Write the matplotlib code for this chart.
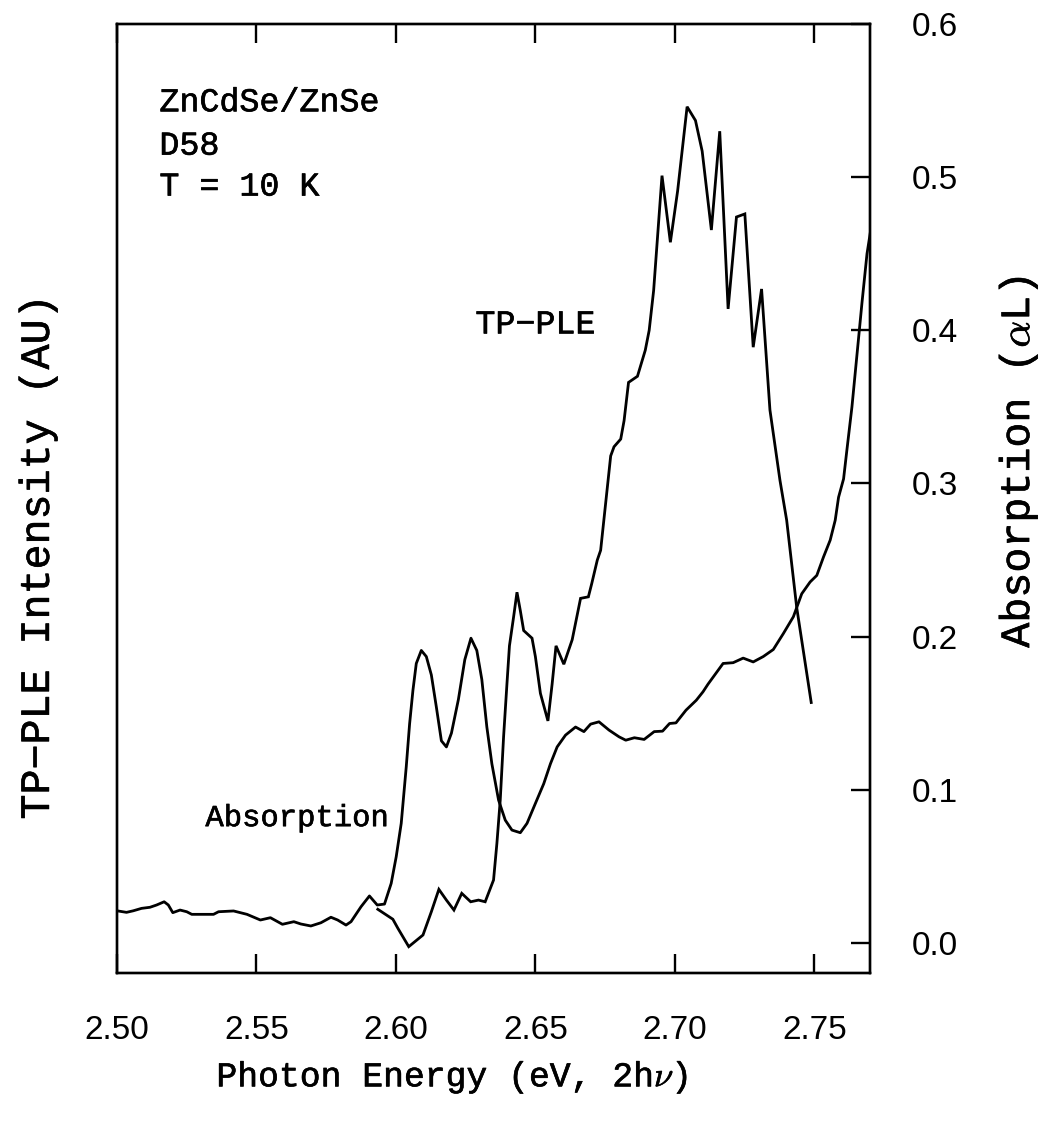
import matplotlib
matplotlib.use("Agg")
import matplotlib.pyplot as plt
import matplotlib.patheffects as pe

# ---------------- data ----------------
abs_energy = [2.500, 2.5034, 2.5058, 2.5088, 2.5118, 2.5142, 2.5169, 2.5184, 2.5200, 2.5226,
              2.5250, 2.5268, 2.5346, 2.5364, 2.5418, 2.5466, 2.5514, 2.5550, 2.5593, 2.5634,
              2.5659, 2.5695, 2.5731, 2.5767, 2.5791, 2.5821, 2.5839, 2.5875, 2.5905, 2.5933,
              2.5959, 2.5983, 2.6001, 2.6019, 2.6037, 2.6049, 2.6061, 2.6073, 2.6091, 2.6109,
              2.6127, 2.6145, 2.6163, 2.6181, 2.6199, 2.6224, 2.6247, 2.6269, 2.6290, 2.6308,
              2.6326, 2.6344, 2.6368, 2.6392, 2.6416, 2.6446, 2.6470, 2.6500, 2.6530, 2.6554,
              2.6578, 2.6608, 2.6644, 2.6674, 2.6698, 2.6728, 2.6764, 2.6800, 2.6824, 2.6855,
              2.6890, 2.6926, 2.6956, 2.6981, 2.7004, 2.7040, 2.7077, 2.7101, 2.7119, 2.7173,
              2.7209, 2.7245, 2.7281, 2.7317, 2.7353, 2.7389, 2.7425, 2.7455, 2.7485, 2.7509,
              2.7533, 2.7557, 2.7575, 2.7587, 2.7605, 2.7617, 2.7635, 2.7671, 2.7689, 2.7713]
abs_value = [0.021, 0.020, 0.021, 0.0226, 0.0233, 0.0248, 0.0269, 0.0248, 0.0198, 0.0215,
             0.0204, 0.0187, 0.0187, 0.0204, 0.0209, 0.0187, 0.0150, 0.0165, 0.0122, 0.0139,
             0.0124, 0.0111, 0.0132, 0.0168, 0.0150, 0.0117, 0.0139, 0.0237, 0.0307, 0.0248,
             0.0254, 0.0389, 0.0563, 0.0781, 0.115, 0.143, 0.165, 0.1825, 0.191, 0.187,
             0.175, 0.154, 0.132, 0.128, 0.137, 0.159, 0.185, 0.199, 0.191, 0.172,
             0.141, 0.117, 0.0933, 0.0802, 0.0737, 0.0720, 0.0781, 0.0911, 0.104, 0.117,
             0.128, 0.1357, 0.141, 0.138, 0.1429, 0.1444, 0.139, 0.1346, 0.1324, 0.134,
             0.1329, 0.138, 0.1383, 0.1433, 0.1437, 0.152, 0.1585, 0.164, 0.169, 0.1825,
             0.183, 0.186, 0.1835, 0.187, 0.1916, 0.202, 0.213, 0.228, 0.2357, 0.240,
             0.252, 0.263, 0.276, 0.291, 0.303, 0.322, 0.350, 0.418, 0.450, 0.478]

ple_energy = [2.5935, 2.5989, 2.6007, 2.6046, 2.6097, 2.6127, 2.6154, 2.6181, 2.6208, 2.6236,
              2.6268, 2.6296, 2.6320, 2.6350, 2.6362, 2.6374, 2.6386, 2.6398, 2.6407, 2.6422,
              2.6434, 2.6446, 2.6458, 2.6488, 2.6500, 2.6518, 2.6545, 2.6560, 2.6574, 2.6602,
              2.6632, 2.6662, 2.6690, 2.6702, 2.6722, 2.6734, 2.6770, 2.6782, 2.6806, 2.6818,
              2.6834, 2.6866, 2.6894, 2.6908, 2.6924, 2.6938, 2.6954, 2.6984, 2.7010, 2.7044,
              2.7074, 2.7098, 2.7131, 2.7161, 2.7191, 2.7221, 2.7251, 2.7281, 2.7311, 2.7341,
              2.7377, 2.7401, 2.7437, 2.7489]
ple_value = [0.022, 0.0155, 0.0096, -0.0024, 0.0052, 0.0204, 0.035, 0.028, 0.0215, 0.0324,
             0.0269, 0.028, 0.0269, 0.0411, 0.065, 0.0933, 0.1346, 0.169, 0.194, 0.213,
             0.229, 0.217, 0.204, 0.199, 0.187, 0.163, 0.145, 0.169, 0.194, 0.182,
             0.198, 0.225, 0.226, 0.2346, 0.250, 0.2564, 0.318, 0.324, 0.329, 0.341,
             0.366, 0.370, 0.387, 0.400, 0.426, 0.461, 0.501, 0.4575, 0.491, 0.546,
             0.537, 0.517, 0.4655, 0.530, 0.414, 0.474, 0.476, 0.389, 0.427, 0.348,
             0.302, 0.276, 0.219, 0.157]

x_ticks = [2.50, 2.55, 2.60, 2.65, 2.70, 2.75]
x_tick_labels = ["2.50", "2.55", "2.60", "2.65", "2.70", "2.75"]
y_ticks = [0.0, 0.1, 0.2, 0.3, 0.4, 0.5, 0.6]
y_tick_labels = ["0.0", "0.1", "0.2", "0.3", "0.4", "0.5", "0.6"]

# ---------------- style ----------------
plt.rcParams['mathtext.fontset'] = 'cm'
label_font = "Liberation Mono"
tick_font = "Liberation Sans"
lw = 2.0
thick = [pe.withStroke(linewidth=0.45, foreground="black")]

fig = plt.figure(figsize=(10.42, 11.22), dpi=100)
ax = fig.add_axes([0.1123, 0.1328, 0.7227, 0.8458])
axr = ax.twinx()

xlim = (2.50, 2.77)
ylim = (-0.0196, 0.6)
for a in (ax, axr):
    a.set_xlim(*xlim)
    a.set_ylim(*ylim)
    for s in a.spines.values():
        s.set_linewidth(1.7)

ax.plot(ple_energy, ple_value, color="black", lw=lw, solid_joinstyle="miter")
axr.plot(abs_energy, abs_value, color="black", lw=lw)

# ticks
ax.set_xticks(x_ticks)
ax.set_xticklabels(x_tick_labels, fontfamily=tick_font, fontsize=24)
ax.tick_params(axis="x", which="major", direction="in", length=14, width=1.7,
               top=True, bottom=True, pad=30)
ax.set_yticks([])
axr.set_yticks(y_ticks)
axr.set_yticklabels(y_tick_labels, fontfamily=tick_font, fontsize=24)
axr.tick_params(axis="y", direction="in", length=14, width=1.7, pad=30)

# axis labels
ax.set_xlabel(r"Photon Energy (eV, 2h$\nu$)", fontfamily=label_font, fontsize=25,
              path_effects=thick)
ax.xaxis.label.set(ha="center", va="center")
ax.xaxis.set_label_coords((452 - 117) / 752, (973 - 1077) / 949)

ax.set_ylabel("TP\u2212PLE Intensity (AU)", fontfamily=label_font, fontsize=30,
              path_effects=thick)
ax.yaxis.label.set(ha="center", va="center", rotation_mode="default")
ax.yaxis.set_label_coords((38 - 117) / 752, (973 - 557) / 949)

axr.set_ylabel(r"Absorption ($\alpha$L)", fontfamily=label_font, fontsize=30,
               path_effects=thick)
axr.yaxis.label.set(ha="center", va="center", rotation_mode="default", rotation=90)
axr.yaxis.set_label_coords((1017 - 117) / 752, (973 - 462) / 949)

# annotations
kw = dict(fontfamily=label_font, fontsize=24, va="baseline", path_effects=thick)
ax.text(2.5152, 0.543, "ZnCdSe/ZnSe", **kw)
ax.text(2.5152, 0.5147, "D58", **kw)
ax.text(2.5152, 0.488, "T = 10 K", **kw)
ax.text(2.6285, 0.398, "TP\u2212PLE", **kw)
ax.text(2.5317, 0.0763, "Absorption", fontfamily=label_font, fontsize=22,
        va="baseline", path_effects=thick)

fig.savefig("out.png", dpi=100)
